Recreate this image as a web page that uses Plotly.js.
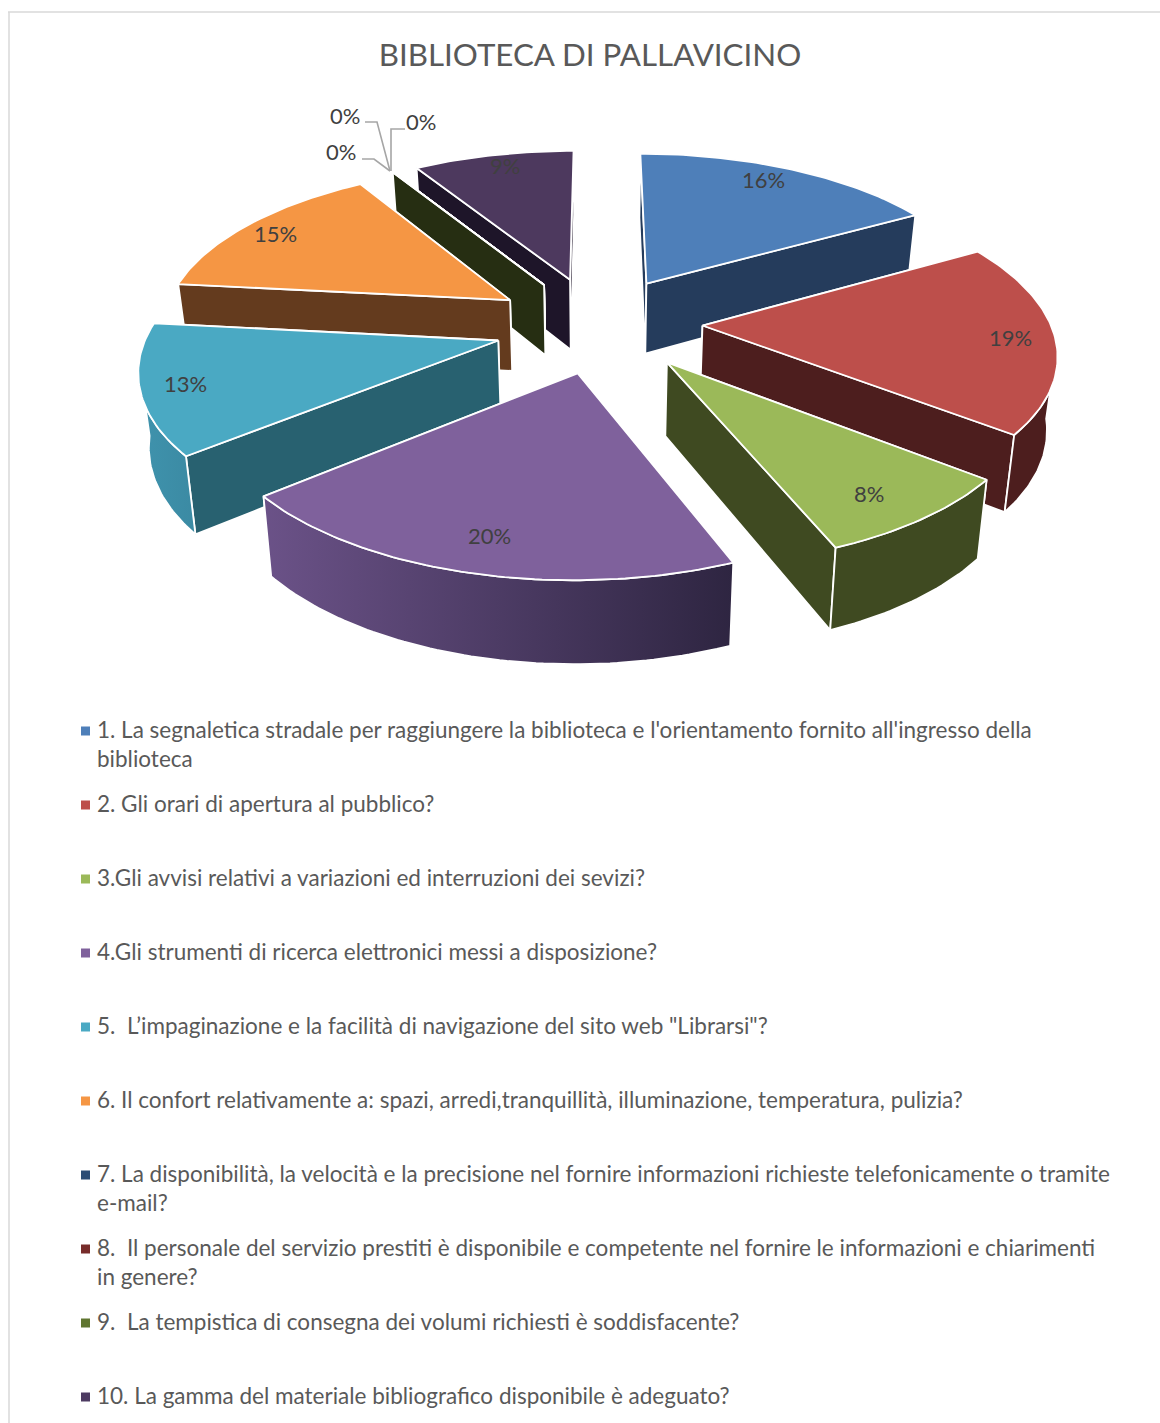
<!DOCTYPE html>
<html>
<head>
<meta charset="utf-8">
<script src="https://cdn.plot.ly/plotly-3.0.1.min.js"></script>
<style>html,body{margin:0;padding:0;background:#fff}#chart{width:1160px;height:1423px}svg text{font-variant-ligatures:none}</style>
</head>
<body>
<div id="chart"></div>
<script>
// Survey shares, in percent, one per question
const values = [16, 19, 8, 20, 13, 15, 0, 0, 0, 9];

const questions = [
  "1. La segnaletica stradale per raggiungere la biblioteca e l'orientamento fornito all'ingresso della<br>biblioteca",
  "2. Gli orari di apertura al pubblico?",
  "3.Gli avvisi relativi a variazioni ed interruzioni dei sevizi?",
  "4.Gli strumenti di ricerca elettronici messi a disposizione?",
  "5.  L’impaginazione e la facilità di navigazione del sito web \"Librarsi\"?",
  "6. Il confort relativamente a: spazi, arredi,tranquillità, illuminazione, temperatura, pulizia?",
  "7. La disponibilità, la velocità e la precisione nel fornire informazioni richieste telefonicamente o tramite<br>e-mail?",
  "8.  Il personale del servizio prestiti è disponibile e competente nel fornire le informazioni e chiarimenti<br>in genere?",
  "9.  La tempistica di consegna dei volumi richiesti è soddisfacente?",
  "10. La gamma del materiale bibliografico disponibile è adeguato?"
];

// Colours per slice: top face, side walls, rim gradient ends
const topColors  = ["#4e7fb9", "#bd4f4b", "#9bb959", "#7f619c", "#4aa9c3", "#f59644", "#2c4d75", "#772c2a", "#5f7530", "#4d395e"];
const wallColors = ["#253c5c", "#4d1e1e", "#3f4a21", "#3f3052", "#286170", "#643b1e", "#1a2c44", "#451a18", "#262e12", "#1e1529"];
const rimLeft    = ["#253c5c", "#4d1e1e", "#3f4a21", "#6b5288", "#3f93ad", "#643b1e", "#1a2c44", "#451a18", "#262e12", "#1e1529"];
const rimRight   = ["#253c5c", "#4d1e1e", "#3f4a21", "#2e2541", "#3b8aa3", "#643b1e", "#1a2c44", "#451a18", "#262e12", "#1e1529"];
const swatchColors = ["#4e7fb9", "#bd4f4b", "#9bb959", "#7f619c", "#4aa9c3", "#f59644", "#2c4d75", "#772c2a", "#5f7530", "#4d3b62"];

// Projection of the tilted, exploded disc onto the page
const view = {cx: 598, cy: 324, ax: 348, ay: 160, persp: 0.148, explode: 0.3,
              depth: 72, depthPersp: 0.7, floorShrink: 0.977};
// Camera twist in degrees around the disc: [bearing, turn]
const twistKnots = [[0, 0], [57.6, 2.8], [126, 2.3], [154.8, 3.2], [226.8, 3.8], [273.6, 2.5], [327.6, 0.7], [360, 0]];
const rimFrom = 97, rimTo = 263, arcStep = 1;
const rad = d => d * Math.PI / 180;

function project(X, Y) {
  const s = 1 / (1 + view.persp * Y);
  return [view.cx + view.ax * X * s, view.cy - view.ay * Y * s, s];
}
function drop(p) {
  return [view.cx + (p[0] - view.cx) * view.floorShrink,
          p[1] + view.depth * (1 + view.depthPersp * (p[2] - 1))];
}
function twisted(th) {
  for (let k = 1; k < twistKnots.length; k++) {
    const [b0, t0] = twistKnots[k - 1], [b1, t1] = twistKnots[k];
    if (th <= b1) return th + t0 + (t1 - t0) * (th - b0) / (b1 - b0);
  }
  return th;
}

const total = values.reduce((a, b) => a + b, 0);
let acc = 0;
const slices = values.map((v, i) => {
  const a0 = acc / total * 360; acc += v;
  const a1 = acc / total * 360;
  const mid = (a0 + a1) / 2;
  return {i, a0, a1, mid,
          ox: view.explode * Math.sin(rad(mid)),
          oy: view.explode * Math.cos(rad(mid))};
});

const rimPoint = (sl, th) => {
  const t = rad(twisted(th));
  return project(sl.ox + Math.sin(t), sl.oy + Math.cos(t));
};
const poly = (pts, color, extra) => Object.assign({
  type: "scatter", mode: "lines", x: pts.map(p => p[0]), y: pts.map(p => p[1]),
  fill: "toself", fillcolor: color, line: {color: "#ffffff", width: 1.8},
  hoverinfo: "skip", showlegend: false
}, extra || {});

const traces = [];
// Paint from the far slices to the near ones
[...slices].sort((a, b) => b.oy - a.oy || a.i - b.i).forEach(sl => {
  const apex = project(sl.ox, sl.oy);
  const arc = [];
  for (let th = sl.a0; th < sl.a1; th += arcStep) arc.push(th);
  arc.push(sl.a1);
  const start = rimPoint(sl, sl.a0), end = rimPoint(sl, sl.a1);

  // The wall reaching further back goes down first
  [start, end].sort((p, q) => p[1] - q[1]).forEach(edge => {
    traces.push(poly([apex, edge, drop(edge), drop(apex), apex], wallColors[sl.i]));
  });

  const front = arc.filter(th => twisted(th) >= rimFrom && twisted(th) <= rimTo).map(th => rimPoint(sl, th));
  if (front.length > 1) {
    const ring = front.concat(front.map(drop).reverse());
    ring.push(ring[0]);
    traces.push(poly(ring, wallColors[sl.i], {
      fillgradient: {type: "horizontal", colorscale: [[0, rimLeft[sl.i]], [1, rimRight[sl.i]]]}
    }));
  }

  const face = [apex].concat(arc.map(th => rimPoint(sl, th)));
  face.push(apex);
  traces.push(poly(face, topColors[sl.i]));
});

// Legend swatches
const rowY = questions.map((q, i) => 731 + 74 * i);
traces.push({
  type: "scatter", mode: "markers", x: questions.map(() => 85.5), y: rowY,
  marker: {symbol: "square", size: 9, color: swatchColors, line: {width: 0}},
  hoverinfo: "skip", showlegend: false
});

// Where each percentage sits on the page
const labelX = [763, 1010, 869, 489, 185, 275, 345, 341, 421, 505];
const labelY = [179, 337, 493, 535, 383, 233, 115, 151, 121, 165];
const leaders = [
  "M365,122 L377,122 L390,171",
  "M362,159 L374,159 L390,171",
  "M405,129 L391,129 L391,171"
];

const FONT = "Lato, Carlito, sans-serif";
const annotations = values.map((v, i) => ({
  x: labelX[i], y: labelY[i], xref: "x", yref: "y", showarrow: false,
  text: v + "%", font: {family: FONT, size: 22, color: "#404040"},
  xanchor: "center", yanchor: "middle"
})).concat(questions.map((q, i) => ({
  x: 96, y: rowY[i] - 15.8, xref: "x", yref: "y", showarrow: false,
  text: q, align: "left", xanchor: "left", yanchor: "top", borderpad: 0,
  font: {family: FONT, size: 22.5, color: "#595959"}
})));

const shapes = leaders.map(path => ({
  type: "path", path, xref: "x", yref: "y", line: {color: "#a6a6a6", width: 1.6}
})).concat([
  {type: "line", xref: "x", yref: "y", x0: 8, x1: 1160, y0: 12, y1: 12, line: {color: "#d9d9d9", width: 1.5}},
  {type: "line", xref: "x", yref: "y", x0: 9, x1: 9, y0: 12, y1: 1423, line: {color: "#d9d9d9", width: 1.5}}
]);

const layout = {
  width: 1160, height: 1423,
  margin: {l: 0, r: 0, t: 0, b: 0},
  paper_bgcolor: "#ffffff", plot_bgcolor: "#ffffff",
  showlegend: false,
  title: {text: "BIBLIOTECA DI PALLAVICINO", x: 590 / 1160, y: 1 - 55 / 1423,
          xanchor: "center", yanchor: "middle", xref: "paper", yref: "paper",
          font: {family: FONT, size: 31.3, color: "#595959"}},
  xaxis: {range: [0, 1160], visible: false, fixedrange: true},
  yaxis: {range: [1423, 0], visible: false, fixedrange: true},
  annotations, shapes
};

Plotly.newPlot("chart", traces, layout, {staticPlot: true, displayModeBar: false});
</script>
</body>
</html>
